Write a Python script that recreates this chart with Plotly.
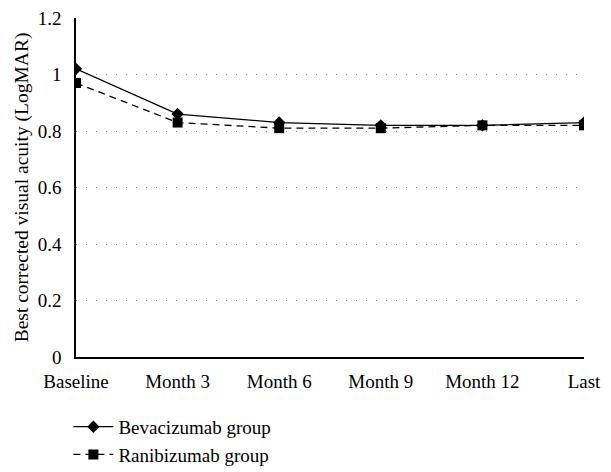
import plotly.graph_objects as go

categories = ["Baseline", "Month 3", "Month 6", "Month 9", "Month 12", "Last"]
bevacizumab = [1.02, 0.86, 0.83, 0.82, 0.82, 0.83]
ranibizumab = [0.97, 0.83, 0.81, 0.81, 0.82, 0.82]
y_ticks = [0, 0.2, 0.4, 0.6, 0.8, 1, 1.2]
y_ticklabels = ["0", "0.2", "0.4", "0.6", "0.8", "1", "1.2"]

font_family = "Liberation Serif"

fig = go.Figure()
fig.add_trace(go.Scatter(
    x=categories, y=bevacizumab, name="Bevacizumab group",
    mode="lines+markers",
    line=dict(color="black", width=1.3),
    marker=dict(symbol="diamond", size=9.5, color="black"),
))
fig.add_trace(go.Scatter(
    x=categories, y=ranibizumab, name="Ranibizumab group",
    mode="lines+markers",
    line=dict(color="black", width=1.3, dash="7px,5px"),
    marker=dict(symbol="square", size=10, color="black"),
))

fig.update_layout(
    width=611, height=472,
    margin=dict(l=76, r=27, t=18, b=115, autoexpand=False),
    paper_bgcolor="white", plot_bgcolor="white",
    font=dict(family=font_family, size=19, color="black"),
    showlegend=True,
    legend=dict(
        x=-0.015, y=-0.15, xanchor="left", yanchor="top",
        orientation="v", font=dict(size=19, family=font_family),
        bgcolor="rgba(0,0,0,0)", tracegroupgap=0, itemwidth=40,
    ),
)
fig.update_xaxes(
    type="category", range=[0, len(categories) - 1],
    showline=True, linecolor="black", linewidth=1.5,
    showgrid=False, ticks="", zeroline=False,
    tickfont=dict(size=19), ticklabelstandoff=6,
)
fig.update_yaxes(
    range=[0, 1.2], tickvals=y_ticks, ticktext=y_ticklabels,
    showline=True, linecolor="black", linewidth=1.5,
    showgrid=True, gridcolor="#8c8c8c", gridwidth=1, griddash="1px,9px",
    ticks="", zeroline=False, tickfont=dict(size=19), ticklabelstandoff=9,
    ticklabeloverflow="allow",
    title=dict(text="Best corrected visual acuity (LogMAR)", font=dict(size=19.5), standoff=4),
)

fig.write_html("out.html", config={"displayModeBar": False},
               post_script="document.body.style.margin='0';")
